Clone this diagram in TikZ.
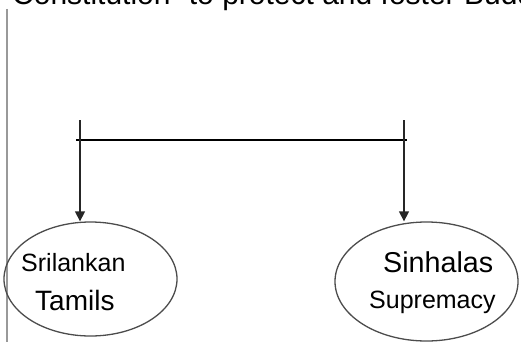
\documentclass[tikz,border=0pt]{standalone}
\usepackage{fontspec}
\setmainfont{Liberation Sans}
\usetikzlibrary{arrows.meta,shapes.geometric}
\begin{document}
\begin{tikzpicture}[x=1pt,y=-1pt,
  oval/.style={draw=black!70,line width=1.3pt,ellipse,inner sep=0pt},
  lbl/.style={anchor=base west,inner sep=0pt,text=black},
  drop/.style={draw=black!85,line width=1.3pt,-{Triangle[width=10pt,length=10pt]}},
  bar/.style={draw=black,line width=2.6pt},
  edge/.style={draw=black!40,line width=1.8pt}]
\useasboundingbox (0,0) rectangle (521,342);
\clip (0,0) rectangle (521,342);
\node[lbl,font=\fontsize{30}{34}\selectfont] (top) at (12,5) {Constitution” to protect and foster Buddhism};
\coordinate (e1) at (7,9);
\coordinate (e2) at (7,342);
\draw[edge] (e1) -- (e2);
\node[oval,minimum width=173pt,minimum height=114pt] (lt) at (90.5,279) {};
\node[oval,minimum width=183pt,minimum height=119pt] (rs) at (426.5,281.5) {};
\coordinate (tl) at (80,120);
\coordinate (tr) at (404,120);
\coordinate (bl) at (76,140);
\coordinate (br) at (407,140);
\draw[bar] (bl) -- (br);
\draw[drop] (tl) -- (tl |- lt.north);
\draw[drop] (tr) -- (tr |- rs.north);
\node[lbl,font=\fontsize{25}{28}\selectfont] (t1) at (21,271) {Srilankan};
\node[lbl,font=\fontsize{28}{32}\selectfont] (t2) at (35,310) {Tamils};
\node[lbl,font=\fontsize{28.7}{32}\selectfont] (t3) at (383,272) {Sinhalas};
\node[lbl,font=\fontsize{25}{28}\selectfont] (t4) at (369,308) {Supremacy};
\end{tikzpicture}
\end{document}
